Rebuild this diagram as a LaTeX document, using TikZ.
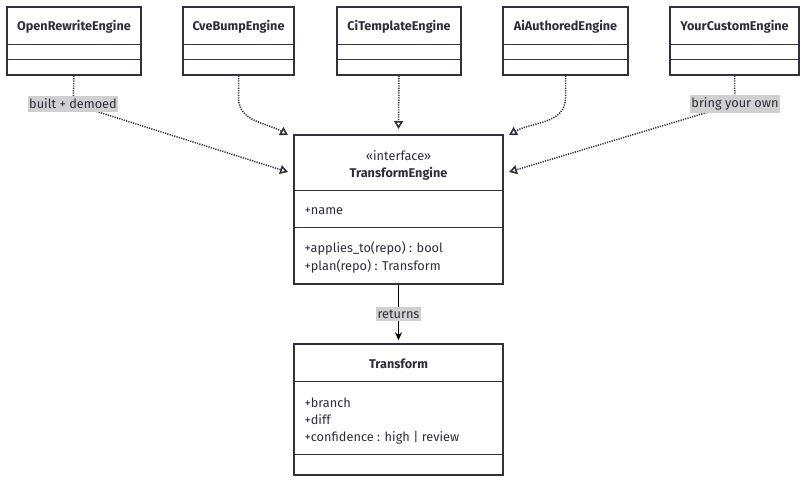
\documentclass[tikz,border=0pt]{standalone}
\usepackage{fontspec}
\setmainfont{Fira Sans}
\usetikzlibrary{arrows.meta,calc}
\definecolor{ln}{HTML}{30303E}
\definecolor{tx}{HTML}{2E2E3A}
\definecolor{lblbg}{HTML}{D0D0D0}
\tikzset{
  x=1bp,y=-1bp,
  ubox/.style={draw=ln,line width=1.4bp,fill=white,rectangle,inner sep=0pt},
  sepline/.style={draw=ln,line width=1.4bp},
  ttl/.style={font=\fontsize{12.7}{15}\selectfont\bfseries,text=tx,inner sep=0pt},
  mem/.style={font=\fontsize{12.8}{15}\selectfont,text=tx,inner sep=0pt,anchor=west},
  lbl/.style={font=\fontsize{12.8}{15}\selectfont,text=tx,fill=lblbg,inner xsep=1.5bp,inner ysep=2.5bp},
  real/.style={draw=ln,line width=1.5bp,dash pattern=on 1.2bp off 1.2bp,-{Triangle[open,length=8bp,width=9bp,line width=1.6bp]}},
  assoc/.style={draw=black,line width=1.4bp,-{Stealth[length=8bp,width=7bp]}}
}
\newcommand{\engbox}[4]{%
  \node[ubox,minimum width=#3bp,minimum height=68bp] (#1) at (#2,41) {};
  \node[ttl] (#1t) at ($(#1.north)+(0,20.5)$) {#4};
  \draw[sepline] ($(#1.north west)+(0,38)$) -- ($(#1.north east)+(0,38)$);
  \draw[sepline] ($(#1.north west)+(0,53)$) -- ($(#1.north east)+(0,53)$);
}
\begin{document}
\begin{tikzpicture}
\useasboundingbox (0,0) rectangle (806,483);
\fill[white] (0,0) rectangle (806,483);

\engbox{ore}{74}{134}{OpenRewriteEngine}
\engbox{cve}{238.5}{111}{CveBumpEngine}
\engbox{cit}{399}{124}{CiTemplateEngine}
\engbox{aia}{565.5}{125}{AiAuthoredEngine}
\engbox{ycu}{734.5}{129}{YourCustomEngine}

% interface box
\node[ubox,minimum width=209bp,minimum height=149bp] (te) at (398.5,209.5) {};
\node[font=\fontsize{12.8}{15}\selectfont,text=tx,inner sep=0pt] (tes) at ($(te.north)+(0,21)$) {«interface»};
\node[ttl] (tet) at ($(te.north)+(0,39.5)$) {TransformEngine};
\draw[sepline] ($(te.north west)+(0,56)$) -- ($(te.north east)+(0,56)$);
\draw[sepline] ($(te.north west)+(0,93)$) -- ($(te.north east)+(0,93)$);
\node[mem] (tem1) at ($(te.north west)+(11,77)$) {+name};
\node[mem] (tem2) at ($(te.north west)+(11,114)$) {+applies\_to(repo) : bool};
\node[mem] (tem3) at ($(te.north west)+(11,132)$) {+plan(repo) : Transform};

% transform box
\node[ubox,minimum width=209bp,minimum height=131bp] (tr) at (398.5,409.5) {};
\node[ttl] (trt) at ($(tr.north)+(0,20.5)$) {Transform};
\draw[sepline] ($(tr.north west)+(0,38)$) -- ($(tr.north east)+(0,38)$);
\draw[sepline] ($(tr.north west)+(0,111)$) -- ($(tr.north east)+(0,111)$);
\node[mem] (trm1) at ($(tr.north west)+(11,59)$) {+branch};
\node[mem] (trm2) at ($(tr.north west)+(11,76)$) {+diff};
\node[mem] (trm3) at ($(tr.north west)+(11,94)$) {+confidence : high | review};

% tips
\coordinate (tip1) at (288,172);
\coordinate (tip2) at (288,135);
\coordinate (tip3) at (398.5,129);
\coordinate (tip4) at (509,135);
\coordinate (tip5) at (509,172);
\coordinate (l1) at (73,104);
\coordinate (l5) at (735,104);

\draw[real] (ore.south) -- (l1) -- (tip1);
\draw[real] (cve.south) -- ++(0,22) to[out=-90,in=150] (tip2);
\draw[real] (cit.south) -- (tip3);
\draw[real] (aia.south) -- ++(0,22) to[out=-90,in=30] (tip4);
\draw[real] (ycu.south) -- (l5) -- (tip5);

\node[lbl] (lab1) at (l1) {built + demoed};
\node[lbl] (lab5) at (l5) {bring your own};

% returns
\draw[assoc] (te.south) -- ($(tr.north)+(0,-3)$);
\node[lbl] (lab6) at (398.5,314) {returns};
\end{tikzpicture}
\end{document}
